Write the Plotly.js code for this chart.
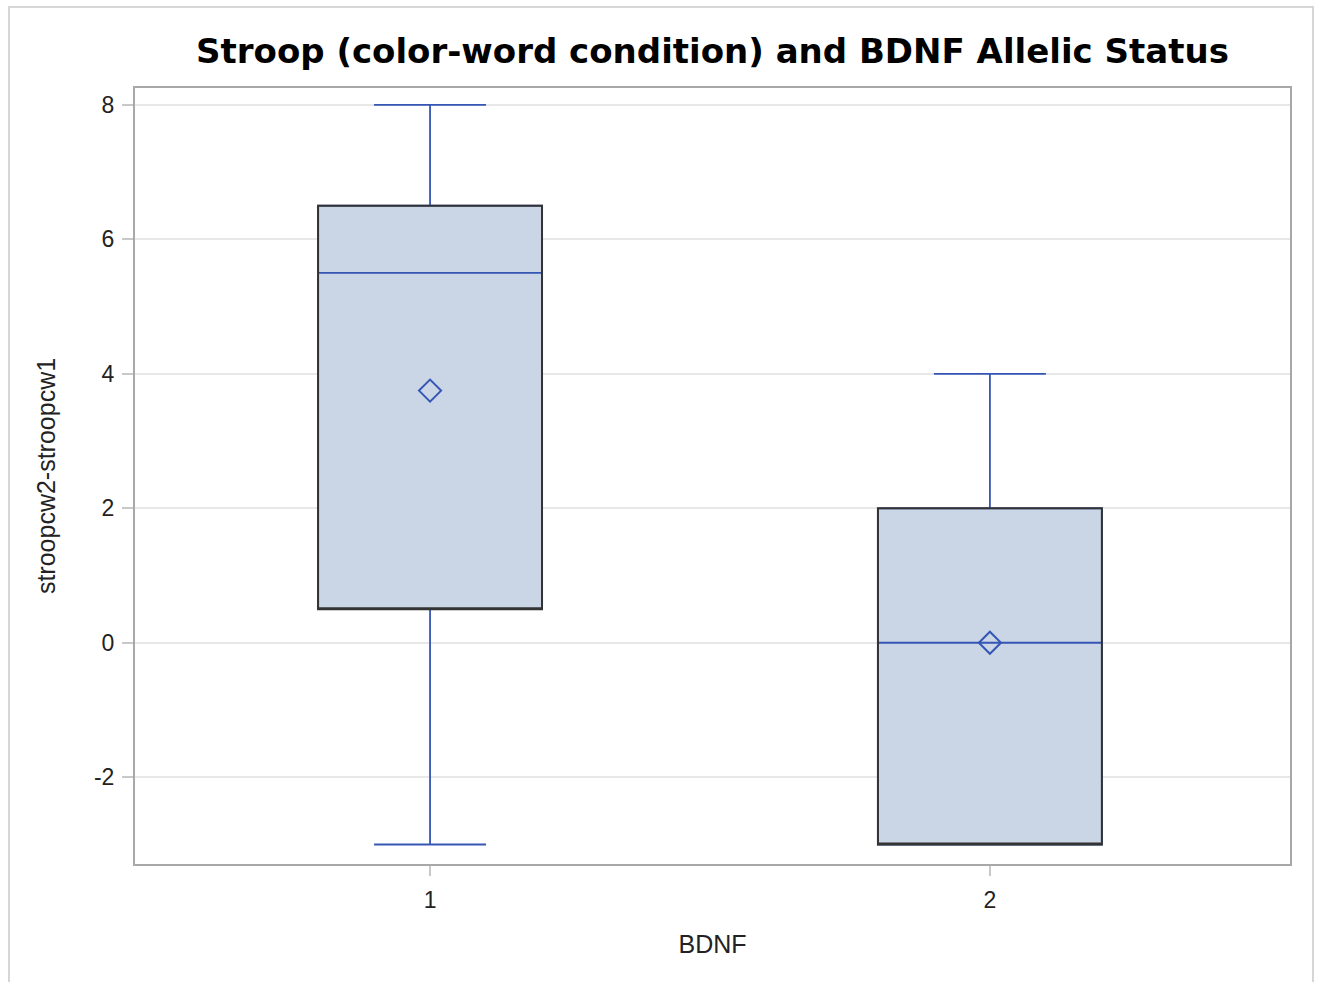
<!DOCTYPE html>
<html>
<head>
<meta charset="utf-8">
<script src="https://cdn.plot.ly/plotly-3.0.1.min.js"></script>
<style>
  html, body { margin: 0; padding: 0; background: #ffffff; }
  #frame { position: absolute; left: 8px; top: 6px; width: 1302px; height: 990px;
           border-left: 2px solid #d6d6d6; border-top: 2px solid #d6d6d6; border-right: 2px solid #d6d6d6; }
  #chart { position: absolute; left: 0; top: 0; width: 1318px; height: 982px; }
</style>
</head>
<body>
<div id="frame"></div>
<div id="chart"></div>
<script>
// Data: BDNF groups and box statistics of stroopcw2-stroopcw1
const groups = [1, 2];
const minVals = [-3, -3];
const q1Vals = [0.5, -3];
const medianVals = [5.5, 0];
const q3Vals = [6.5, 2];
const maxVals = [8, 4];
const meanVals = [3.75, 0];
const tickVals = [-2, 0, 2, 4, 6, 8];
const tickText = ['-2', '0', '2', '4', '6', '8'];
const xTickVals = [1, 2];
const xTickText = ['1', '2'];

const blue = '#3556b4';
const fill = '#cad5e5';
const outline = '#333333';
const sans = 'Liberation Sans, Arial, sans-serif';

const traces = [
  {
    type: 'box',
    x: groups,
    q1: q1Vals, median: medianVals, q3: q3Vals,
    lowerfence: minVals, upperfence: maxVals,
    width: 0.4,
    whiskerwidth: 0.5,
    fillcolor: fill,
    line: { color: blue, width: 1.8 },
    boxpoints: false,
    hoverinfo: 'skip',
    showlegend: false
  },
  {
    // dark outline of the box only (median placed on q1, fences on q1/q3)
    type: 'box',
    x: groups,
    q1: q1Vals, median: q1Vals, q3: q3Vals,
    lowerfence: q1Vals, upperfence: q3Vals,
    width: 0.4,
    whiskerwidth: 0,
    fillcolor: 'rgba(0,0,0,0)',
    line: { color: outline, width: 2 },
    boxpoints: false,
    hoverinfo: 'skip',
    showlegend: false
  },
  {
    type: 'scatter',
    mode: 'markers',
    x: groups,
    y: meanVals,
    marker: { symbol: 'diamond-open', size: 17, color: blue, line: { color: blue, width: 2 } },
    hoverinfo: 'skip',
    showlegend: false
  }
];

const layout = {
  width: 1318, height: 982,
  margin: { l: 135, r: 28, t: 88, b: 118 },
  paper_bgcolor: 'rgba(0,0,0,0)',
  plot_bgcolor: '#ffffff',
  boxmode: 'overlay',
  showlegend: false,
  title: {
    text: 'Stroop (color-word condition) and BDNF Allelic Status',
    font: { family: 'DejaVu Sans, Verdana, sans-serif', size: 34, color: '#000000', weight: 'bold' },
    x: 0.5, xref: 'paper', xanchor: 'center',
    y: 0.948, yref: 'container', yanchor: 'middle'
  },
  xaxis: {
    range: [0.473, 2.536],
    tickvals: xTickVals,
    ticktext: xTickText,
    ticks: 'outside', ticklen: 10, tickwidth: 2, tickcolor: '#c8c8c8',
    ticklabelstandoff: 4,
    showgrid: false, zeroline: false,
    showline: true, linecolor: '#a8a8a8', linewidth: 2, mirror: true,
    tickfont: { family: sans, size: 23, color: '#222222' },
    title: { text: 'BDNF', font: { family: sans, size: 25, color: '#222222' }, standoff: 24 }
  },
  yaxis: {
    range: [-3.29, 8.25],
    tickvals: tickVals,
    ticktext: tickText,
    ticks: 'outside', ticklen: 11, tickwidth: 2, tickcolor: '#c8c8c8',
    ticklabelstandoff: 3,
    showgrid: true, gridcolor: '#e8e8e8', gridwidth: 2,
    zeroline: false,
    showline: true, linecolor: '#a8a8a8', linewidth: 2, mirror: true,
    tickfont: { family: sans, size: 23, color: '#222222' },
    title: { text: 'stroopcw2-stroopcw1', font: { family: sans, size: 25, color: '#222222' }, standoff: 31 }
  }
};

Plotly.newPlot('chart', traces, layout, { staticPlot: true, displayModeBar: false });
</script>
</body>
</html>
